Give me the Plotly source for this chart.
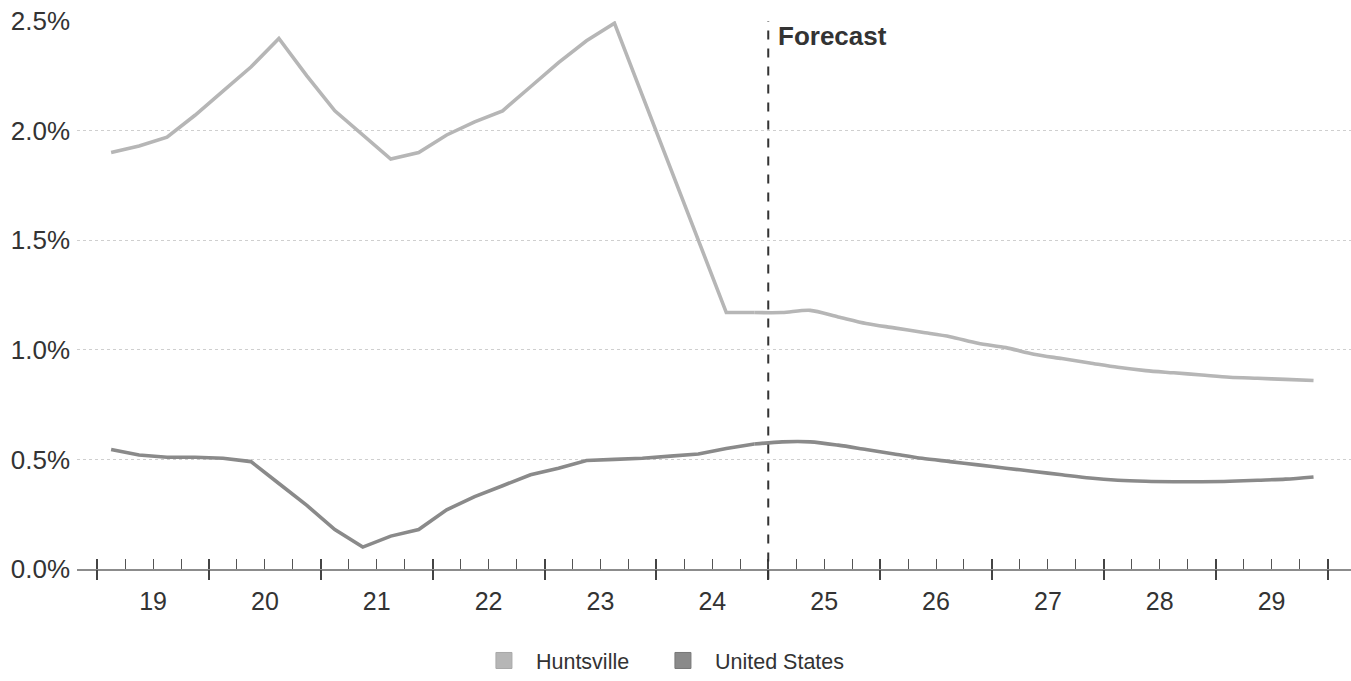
import plotly.graph_objects as go

# ---------------- data ----------------
years = list(range(2019, 2030))
tick_labels = ["19", "20", "21", "22", "23", "24", "25", "26", "27", "28", "29"]
quarters = [f"{y} Q{q}" for y in years for q in range(1, 5)]

huntsville = [
    1.90, 1.93, 1.97, 2.07,
    2.18, 2.29, 2.42, 2.25,
    2.09, 1.98, 1.87, 1.90,
    1.98, 2.04, 2.09, 2.20,
    2.31, 2.41, 2.49, 2.16,
    1.83, 1.50, 1.17, 1.17,
    1.17, 1.18, 1.15, 1.12,
    1.10, 1.08, 1.06, 1.03,
    1.01, 0.98, 0.96, 0.94,
    0.92, 0.905, 0.895, 0.885,
    0.875, 0.87, 0.865, 0.86,
]
united_states = [
    0.545, 0.52, 0.51, 0.51,
    0.505, 0.49, 0.39, 0.29,
    0.18, 0.10, 0.15, 0.18,
    0.27, 0.33, 0.38, 0.43,
    0.46, 0.495, 0.50, 0.505,
    0.515, 0.525, 0.55, 0.57,
    0.58, 0.58, 0.565, 0.545,
    0.525, 0.505, 0.49, 0.475,
    0.46, 0.445, 0.43, 0.415,
    0.405, 0.40, 0.398, 0.398,
    0.40, 0.405, 0.41, 0.42,
]
y_ticks = [0.0, 0.5, 1.0, 1.5, 2.0, 2.5]
forecast_start_year = 2025
series_names = ["Huntsville", "United States"]

# ---------------- styling ----------------
C_HUNT = "#b6b6b6"
C_US = "#8a8a8a"
TXT = "#333333"
FONT = "Liberation Sans, Arial, sans-serif"
LW = 3.6

def qpos(label):
    y, q = label.split(" Q")
    return int(y) + (int(q) - 0.5) / 4.0

xs = [qpos(q) for q in quarters]
split = quarters.index(f"{forecast_start_year - 1} Q4")
x_range = [2018.82, 2030.21]
year_bounds = [y for y in years] + [years[-1] + 1]
quarter_bounds = [y + k / 4 for y in years for k in range(4)] + [years[-1] + 1]
year_mids = [y + 0.5 for y in years]

fig = go.Figure()

for vals, col, name in [(huntsville, C_HUNT, series_names[0]),
                        (united_states, C_US, series_names[1])]:
    fig.add_trace(go.Scatter(x=xs[:split + 1], y=vals[:split + 1], mode="lines",
                             name=name, line=dict(color=col, width=LW),
                             showlegend=False, hoverinfo="skip"))
    fig.add_trace(go.Scatter(x=xs[split:], y=vals[split:], mode="lines",
                             name=name, line=dict(color=col, width=LW,
                                                  shape="spline", smoothing=0.8),
                             showlegend=False, hoverinfo="skip"))

# legend entries (square swatches)
fig.add_trace(go.Scatter(x=[None], y=[None], mode="markers", name=series_names[0],
                         marker=dict(symbol="square", size=17, color=C_HUNT,
                                     line=dict(color="#a8a8a8", width=1))))
fig.add_trace(go.Scatter(x=[None], y=[None], mode="markers", name=series_names[1],
                         marker=dict(symbol="square", size=17, color=C_US,
                                     line=dict(color="#777777", width=1))))
# invisible spacer entry so the last label is not clipped
fig.add_trace(go.Scatter(x=[None], y=[None], mode="markers", name="\u00a0",
                         marker=dict(symbol="square", size=1, color="rgba(0,0,0,0)",
                                     line=dict(width=0, color="rgba(0,0,0,0)")),
                         hoverinfo="skip"))

for ax in ["x2", "x3", "x4"]:
    fig.add_trace(go.Scatter(x=[None], y=[None], xaxis=ax, yaxis="y",
                             showlegend=False, hoverinfo="skip"))

common = dict(range=x_range, showgrid=False, zeroline=False, fixedrange=True)

fig.update_layout(
    width=1351, height=681,
    margin=dict(l=77, r=0, t=21, b=109),
    paper_bgcolor="white", plot_bgcolor="white",
    font=dict(family=FONT, color=TXT),
    showlegend=True,
    legend=dict(orientation="h", x=0.310, xanchor="left", y=-0.168, yanchor="middle",
                font=dict(size=21.5, color=TXT), itemwidth=54,
                entrywidth=110, entrywidthmode="pixels",
                bgcolor="rgba(0,0,0,0)", traceorder="normal"),
    xaxis=dict(**common, tickmode="array", tickvals=year_mids, ticktext=tick_labels,
               ticks="", showline=True, linecolor="#8c8c8c", linewidth=2,
               tickfont=dict(size=25, color=TXT), ticklabelstandoff=9),
    xaxis2=dict(**common, overlaying="x", anchor="y", side="bottom",
                tickmode="array", tickvals=year_bounds, showticklabels=False,
                ticks="outside", ticklen=10, tickwidth=2, tickcolor="#444444",
                showline=False),
    xaxis3=dict(**common, overlaying="x", anchor="y", side="bottom",
                tickmode="array", tickvals=quarter_bounds, showticklabels=False,
                ticks="inside", ticklen=10, tickwidth=1.3, tickcolor="#555555",
                showline=False),
    xaxis4=dict(**common, overlaying="x", anchor="y", side="bottom",
                tickmode="array", tickvals=year_bounds, showticklabels=False,
                ticks="inside", ticklen=10, tickwidth=2, tickcolor="#444444",
                showline=False),
    yaxis=dict(range=[0, 2.5], tickmode="array", tickvals=y_ticks,
               ticktext=[f"{v:.1f}%" for v in y_ticks],
               showgrid=True, gridcolor="#cfcfcf", griddash="dot", gridwidth=1,
               zeroline=False, showline=False, ticks="",
               tickfont=dict(size=26, color=TXT), ticklabelstandoff=6,
               fixedrange=True),
)

fig.add_shape(type="line", xref="x", yref="paper",
              x0=forecast_start_year, x1=forecast_start_year, y0=-0.019, y1=1.0,
              line=dict(color="#333333", width=2, dash="dash"), layer="above")
fig.add_annotation(x=forecast_start_year, y=1.0, xref="x", yref="paper",
                   text="<b>Forecast</b>", showarrow=False, xanchor="left",
                   yanchor="top", xshift=8, yshift=2,
                   font=dict(size=26, color=TXT, family=FONT))

fig.write_html("out.html")
